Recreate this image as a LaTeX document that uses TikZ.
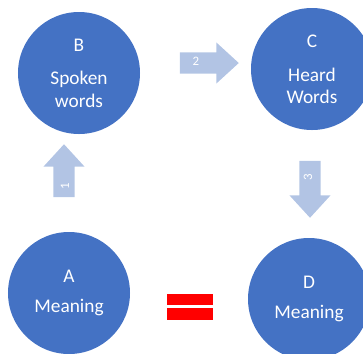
\documentclass[tikz,border=0pt]{standalone}
\usepackage{fontspec}
\setmainfont{Carlito}
\usetikzlibrary{shapes.arrows}
\definecolor{circblue}{RGB}{68,114,196}
\definecolor{arrblue}{RGB}{178,196,228}
\definecolor{eqred}{RGB}{255,0,0}
\tikzset{
  stage/.style={circle,fill=circblue,text=white,minimum size=3.66cm,inner sep=0pt,align=center,font=\fontsize{16.5}{19}\selectfont},
  blockarrow/.style={single arrow,fill=arrblue,single arrow head extend=0.3cm,single arrow tip angle=85,inner xsep=0pt,inner ysep=0.31cm,text height=0pt,text depth=0pt},
  num/.style={text=white,font=\fontsize{11}{13}\selectfont,inner sep=0pt}
}

\begin{document}
\begin{tikzpicture}[x=0.03cm,y=-0.03cm]
\clip (0,0) rectangle (363,353);
\node[stage] (B) at (79,73) {B\\[10pt]Spoken\\words};
\node[stage] (C) at (312,69) {C\\[10pt]Heard\\Words};
\node[stage] (A) at (69,293) {A\\[7pt]Meaning};
\node[stage] (D) at (309,299) {D\\[7pt]Meaning};
\node[blockarrow,minimum height=1.59cm,rotate=90] (AB) at (64,176.5) {};
\node[blockarrow,minimum height=1.77cm] (BC) at (203.5,63) {};
\node[blockarrow,minimum height=1.71cm,rotate=-90] (CD) at (310,183.5) {};
\node[num,rotate=90] (n1) at (65,186) {1};
\node[num] (n2) at (196,61) {2};
\node[num,rotate=90] (n3) at (308,177) {3};
\fill[eqred] (167,294) rectangle (213,305);
\fill[eqred] (167,308) rectangle (213,320);
\end{tikzpicture}
\end{document}
